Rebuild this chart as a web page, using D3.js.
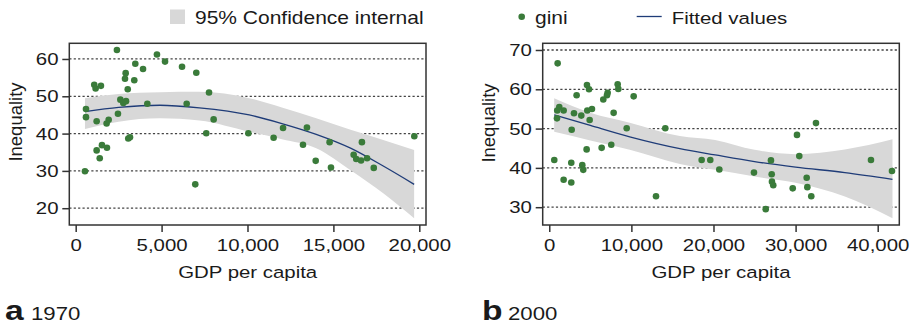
<!DOCTYPE html>
<meta charset="utf-8">
<script src="https://d3js.org/d3.v7.min.js"></script>
<style>
  body { margin: 0; background: #fff; }
  text { font-family: "Liberation Sans", Arial, sans-serif; fill: #1a1a1a; }
</style>
<div id="chart"></div>
<script>

// ---- data ----
// panel a, 1970
var gdp1970  = [2400, 4730, 5200, 3470, 3920, 6190, 7020, 2910, 2870, 3410, 1080, 1160, 1470, 3030, 7760,
                2600, 2770, 2930, 4170, 6460, 600, 600, 2460, 1220, 1920, 1800, 8030, 7600, 10050, 3060,
                3160, 1530, 1820, 1220, 1400, 540, 6960, 11520, 12070, 13230, 13460, 13970, 14780, 14860,
                16180, 16330, 16610, 16660, 16960, 17350, 19710];
var gini1970 = [62.4, 61.2, 59.3, 58.7, 57.3, 57.9, 56.3, 56.2, 54.7, 54.3, 53.1, 52.1, 52.8, 51.9, 51.0,
                49.1, 48.2, 48.7, 48.0, 48.0, 46.6, 44.4, 45.3, 43.3, 43.7, 42.7, 43.8, 40.1, 40.1, 38.7,
                39.0, 36.9, 36.2, 35.5, 33.4, 29.9, 26.4, 38.9, 41.5, 37.0, 41.6, 32.7, 37.7, 30.9,
                34.3, 33.2, 32.8, 37.7, 33.4, 30.8, 39.3];
var fitX1970  = [540, 2500, 4900, 7200, 10100, 12000, 14000, 16000, 17900, 19700];
var fitY1970  = [45.9, 47.0, 47.6, 46.9, 45.0, 42.7, 39.8, 36.1, 31.3, 26.4];
var ciHi1970  = [49.5, 50.6, 51.1, 51.2, 49.5, 47.0, 44.1, 41.0, 38.3, 35.6];
var ciLo1970  = [41.2, 43.2, 44.1, 43.5, 40.5, 38.5, 36.1, 30.2, 24.0, 17.3];

// panel b, 2000
var gdp2000  = [1020, 4590, 4840, 8330, 8410, 3330, 7110, 7030, 6580, 10280, 1220, 970, 1750, 940, 3010,
                3900, 4630, 5200, 4920, 7840, 2730, 9430, 14130, 4550, 6380, 7550, 610, 2680, 4020, 4140,
                1750, 2680, 13000, 18560, 19610, 20710, 24930, 26360, 27000, 27090, 27120, 27280, 29650,
                30170, 30450, 31350, 31430, 31910, 32480, 39180, 41740];
var gini2000 = [66.6, 61.1, 60.0, 61.3, 60.1, 58.5, 59.1, 58.5, 57.4, 58.2, 55.5, 54.6, 54.6, 52.6, 53.9,
                53.3, 54.6, 55.0, 52.2, 54.0, 49.7, 50.1, 50.1, 44.7, 45.1, 45.9, 42.0, 41.3, 40.7, 39.5,
                37.0, 36.3, 32.8, 42.0, 42.0, 39.6, 38.8, 29.5, 41.9, 38.4, 36.5, 35.6, 34.8,
                48.4, 43.0, 37.5, 35.1, 32.8, 51.4, 42.0, 39.2];
var fitX2000  = [600, 5000, 9800, 15900, 20200, 25000, 30000, 36000, 41800];
var fitY2000  = [53.5, 50.8, 47.9, 44.9, 43.3, 41.6, 40.2, 38.8, 37.1];
var ciHi2000  = [57.7, 54.0, 51.5, 48.1, 47.1, 44.6, 43.5, 44.7, 47.3];
var ciLo2000  = [49.2, 47.0, 44.6, 41.0, 39.5, 37.8, 36.2, 32.7, 27.2];

var xTicks1970 = [0, 5000, 10000, 15000, 20000];
var yTicks1970 = [20, 30, 40, 50, 60];
var xTicks2000 = [0, 10000, 20000, 30000, 40000];
var yTicks2000 = [30, 40, 50, 60, 70];

var width = 915, height = 327;
var SX = 1.2;   // the source image is a little stretched sideways

var svg = d3.select("#chart")
  .append("svg")
    .attr("width", width)
    .attr("height", height);

function label(g, x, y, s, size, anchor, weight) {
  return g.append("text")
    .attr("transform", "translate(" + x + "," + y + ") scale(" + SX + ",1)")
    .attr("text-anchor", anchor || "start")
    .style("font-size", size + "px")
    .style("font-weight", weight || "normal")
    .text(s);
}

function panel(o) {
  var x = d3.scaleLinear().domain(o.xDomain).range([o.left, o.right]);
  var y = d3.scaleLinear().domain(o.yDomain).range([o.bottom, o.top]);
  var g = svg.append("g");

  // grid
  g.selectAll(".grid")
    .data(o.yTicks)
    .enter()
    .append("line")
      .attr("x1", o.left).attr("x2", o.right)
      .attr("y1", function(d){ return y(d); })
      .attr("y2", function(d){ return y(d); })
      .style("stroke", "#444")
      .style("stroke-width", 1.3)
      .style("stroke-dasharray", "2.2,2.2");

  // confidence band
  var band = o.fitX.map(function(d, i){ return [d, o.lo[i], o.hi[i]]; });
  g.append("path")
    .datum(band)
    .attr("d", d3.area()
      .x(function(d){ return x(d[0]); })
      .y0(function(d){ return y(d[1]); })
      .y1(function(d){ return y(d[2]); })
      .curve(d3.curveMonotoneX))
    .style("fill", "#d8d8d8");

  // fitted line
  var fit = o.fitX.map(function(d, i){ return [d, o.fitY[i]]; });
  g.append("path")
    .datum(fit)
    .attr("d", d3.line()
      .x(function(d){ return x(d[0]); })
      .y(function(d){ return y(d[1]); })
      .curve(d3.curveMonotoneX))
    .style("fill", "none")
    .style("stroke", "#1f3c78")
    .style("stroke-width", 1.3);

  // dots
  g.selectAll(".dot")
    .data(o.gdp)
    .enter()
    .append("circle")
      .attr("cx", function(d){ return x(d); })
      .attr("cy", function(d, i){ return y(o.gini[i]); })
      .attr("r", 3.3)
      .style("fill", "#3a7b3a");

  // frame
  g.append("rect")
    .attr("x", o.left).attr("y", o.top)
    .attr("width", o.right - o.left).attr("height", o.bottom - o.top)
    .style("fill", "none")
    .style("stroke", "#333")
    .style("stroke-width", 1.5);

  // axes
  var xa = g.append("g")
    .attr("transform", "translate(0," + o.bottom + ")")
    .call(d3.axisBottom(x).tickValues(o.xTicks).tickSize(7).tickPadding(7).tickFormat(d3.format(",")));
  var ya = g.append("g")
    .attr("transform", "translate(" + o.left + ",0)")
    .call(d3.axisLeft(y).tickValues(o.yTicks).tickSize(7).tickPadding(2));
  [xa, ya].forEach(function(a){
    a.select(".domain").remove();
    a.selectAll("line").style("stroke", "#333").style("stroke-width", 1.5);
    a.selectAll("text")
      .style("font-size", "17px")
      .style("font-family", "'Liberation Sans', Arial, sans-serif")
      .style("fill", "#1a1a1a")
      .attr("transform", "scale(" + SX + ",1)");
  });

  // titles
  label(g, (o.left + o.right) / 2, 278, "GDP per capita", 17, "middle");
  g.append("text")
    .attr("transform", "translate(" + o.yTitleX + "," + o.yTitleY + ") rotate(-90)")
    .attr("text-anchor", "middle")
    .style("font-size", "18.5px")
    .text("Inequality");
  label(g, o.tagX, 320, o.tag, 28, "start", "bold");
  label(g, o.tagX + 26, 320, o.year, 18.5, "start");
}

panel({
  left: 69.3, right: 426, top: 43.3, bottom: 225,
  xDomain: [-372, 20390], yDomain: [15.5, 64.2],
  xTicks: xTicks1970, yTicks: yTicks1970,
  gdp: gdp1970, gini: gini1970,
  fitX: fitX1970, fitY: fitY1970, lo: ciLo1970, hi: ciHi1970,
  yTitleX: 21.5, yTitleY: 122, tagX: 5, tag: "a", year: "1970"
});

panel({
  left: 542.7, right: 899.3, top: 43.3, bottom: 225,
  xDomain: [-800, 42630], yDomain: [25.47, 71.7],
  xTicks: xTicks2000, yTicks: yTicks2000,
  gdp: gdp2000, gini: gini2000,
  fitX: fitX2000, fitY: fitY2000, lo: ciLo2000, hi: ciHi2000,
  yTitleX: 495, yTitleY: 123, tagX: 482, tag: "b", year: "2000"
});

// legend
var leg = svg.append("g");
leg.append("rect")
  .attr("x", 170).attr("y", 9.5).attr("width", 15).attr("height", 14.5)
  .style("fill", "#d8d8d8");
label(leg, 195, 23.5, "95% Confidence internal", 17.5, "start");
leg.append("circle")
  .attr("cx", 521.7).attr("cy", 16.7).attr("r", 3.3)
  .style("fill", "#3a7b3a");
label(leg, 535, 23.5, "gini", 17.5, "start");
leg.append("line")
  .attr("x1", 636.7).attr("x2", 661.7).attr("y1", 16.5).attr("y2", 16.5)
  .style("stroke", "#1f3c78").style("stroke-width", 1.3);
label(leg, 671.7, 23.5, "Fitted values", 17, "start");

</script>
